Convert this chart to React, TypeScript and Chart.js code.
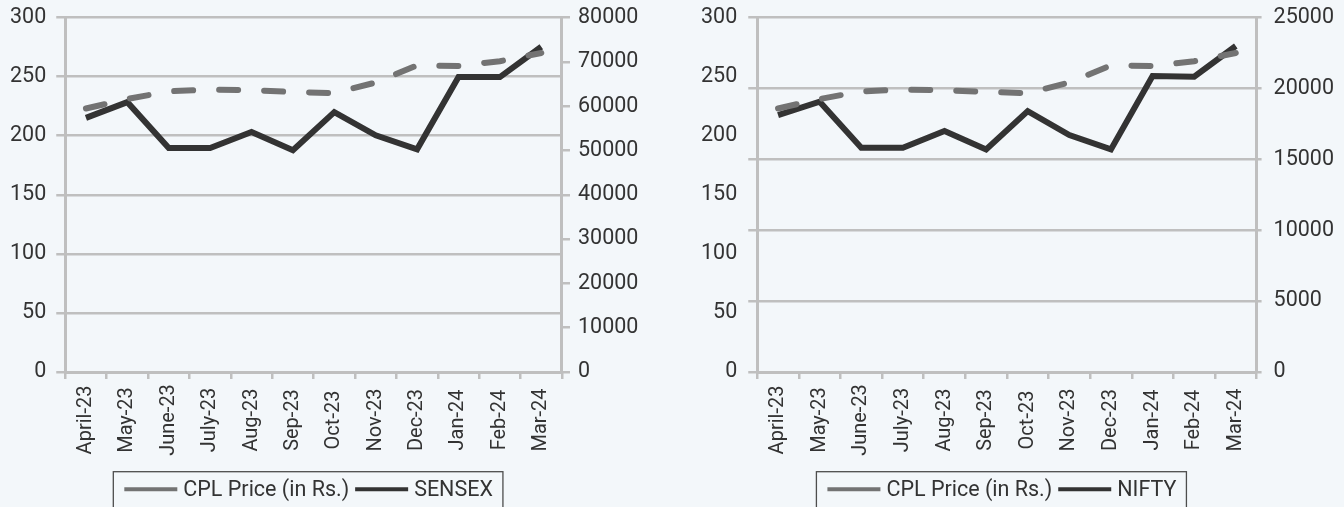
import React, { useEffect, useRef } from 'react';
import { Chart, registerables } from 'chart.js';

Chart.register(...registerables);

const FONT = 'Roboto, "Noto Sans", sans-serif';
const TEXT = '#333333';
const GRID = '#BFBFBF';
const BG = '#F3F7FA';

// ---- data ----
const months = ['April-23', 'May-23', 'June-23', 'July-23', 'Aug-23', 'Sep-23', 'Oct-23', 'Nov-23', 'Dec-23', 'Jan-24', 'Feb-24', 'Mar-24'];
const cplPrice = [223, 231, 237.5, 239, 238.5, 237, 236, 245, 259.5, 259, 263, 270];
const sensex = [57350, 60900, 50550, 50550, 54150, 50030, 58660, 53400, 50250, 66550, 66550, 73400];
const nifty = [18120, 19060, 15820, 15820, 17000, 15700, 18400, 16710, 15700, 20870, 20820, 22990];

// ---- axis tick values ----
const priceTicks = [0, 50, 100, 150, 200, 250, 300];
const sensexTicks = [0, 10000, 20000, 30000, 40000, 50000, 60000, 70000, 80000];
const niftyTicks = [0, 5000, 10000, 15000, 20000, 25000];

const stepOf = (t: number[]) => t[1] - t[0];

const centeredXLabels = {
  id: 'centeredXLabels',
  afterDraw(chart: any, _args: any, opts: any) {
    const scale = chart.scales.x;
    const ctx = chart.ctx;
    const labels = chart.data.labels as string[];
    ctx.save();
    ctx.font = `${opts.size}px ${FONT}`;
    ctx.fillStyle = opts.color;
    ctx.textAlign = 'center';
    ctx.textBaseline = 'middle';
    labels.forEach((lab, i) => {
      const x = scale.getPixelForTick(i);
      ctx.save();
      ctx.translate(x, chart.chartArea.bottom + opts.offset);
      ctx.rotate(-Math.PI / 2);
      ctx.fillText(lab, 0, 0);
      ctx.restore();
    });
    ctx.restore();
  },
};

const boxedLegend = {
  id: 'boxedLegend',
  afterDraw(chart: any, _args: any, o: any) {
    const ctx = chart.ctx;
    const ca = chart.chartArea;
    ctx.save();
    ctx.font = `${o.size}px ${FONT}`;
    const items = chart.data.datasets.map((d: any) => ({
      text: d.label as string,
      color: d.borderColor as string,
      w: ctx.measureText(d.label).width,
    }));
    let total = o.padLeft + o.padRight;
    items.forEach((it: any, i: number) => {
      total += o.lineLen + o.gap + it.w + (i < items.length - 1 ? o.itemGap : 0);
    });
    const left = (ca.left + ca.right) / 2 + o.shift - total / 2;
    const top = ca.bottom + o.top;
    ctx.strokeStyle = o.borderColor;
    ctx.lineWidth = 1.3;
    ctx.strokeRect(left, top, total, o.height);
    let x = left + o.padLeft;
    items.forEach((it: any) => {
      ctx.strokeStyle = it.color;
      ctx.lineWidth = 4;
      ctx.setLineDash([]);
      ctx.beginPath();
      ctx.moveTo(x, top + o.lineY);
      ctx.lineTo(x + o.lineLen, top + o.lineY);
      ctx.stroke();
      x += o.lineLen + o.gap;
      ctx.fillStyle = TEXT;
      ctx.textAlign = 'left';
      ctx.textBaseline = 'alphabetic';
      ctx.fillText(it.text, x, top + o.baseY);
      x += it.w + o.itemGap;
    });
    ctx.restore();
  },
};

// small lineHeight keeps the top label from pushing the plot area down
const tickFont = { size: 21.5, family: FONT, lineHeight: 0.4 };

function xScale() {
  return {
    type: 'category',
    offset: true,
    grid: { offset: true, drawOnChartArea: false, tickLength: 7, color: GRID, lineWidth: 2.5 },
    border: { display: true, color: GRID, width: 3 },
    ticks: { display: false },
  };
}

function makeConfig(indexLabel: string, indexData: number[], indexTicks: number[], right: boolean) {
  const datasets = [
    {
      label: 'CPL Price (in Rs.)',
      data: cplPrice,
      yAxisID: 'yL',
      borderColor: '#737373',
      backgroundColor: '#737373',
      borderWidth: 6,
      borderDash: [19, 26],
      borderCapStyle: 'round',
      pointRadius: 0,
      tension: 0,
    },
    {
      label: indexLabel,
      data: indexData,
      yAxisID: 'yR',
      borderColor: '#333333',
      backgroundColor: '#333333',
      borderWidth: 6,
      borderJoinStyle: 'miter',
      pointRadius: 0,
      tension: 0,
    },
  ];

  const scales: any = { x: xScale() };
  const numCb = (v: any) => String(v);
  if (!right) {
    scales.yL = {
      position: 'left',
      min: priceTicks[0],
      max: priceTicks[priceTicks.length - 1],
      ticks: { stepSize: stepOf(priceTicks), padding: 10, color: TEXT, font: tickFont, callback: numCb },
      grid: { color: GRID, lineWidth: 2.5, tickLength: 9 },
      border: { color: GRID, width: 3 },
    };
    scales.yR = {
      position: 'right',
      min: indexTicks[0],
      max: indexTicks[indexTicks.length - 1],
      ticks: { stepSize: stepOf(indexTicks), padding: 8, color: TEXT, font: tickFont, callback: numCb },
      grid: { drawOnChartArea: false, color: GRID, lineWidth: 2.5, tickLength: 8 },
      border: { color: GRID, width: 3 },
    };
  } else {
    scales.yL = {
      position: 'left',
      weight: 1,
      min: priceTicks[0],
      max: priceTicks[priceTicks.length - 1],
      ticks: { stepSize: stepOf(priceTicks), padding: 11, color: TEXT, font: tickFont, callback: numCb },
      grid: { display: false, drawTicks: false },
      border: { display: false },
    };
    scales.yT = {
      position: 'left',
      weight: 0,
      min: indexTicks[0],
      max: indexTicks[indexTicks.length - 1],
      ticks: { display: false, stepSize: stepOf(indexTicks) },
      grid: { drawOnChartArea: false, color: GRID, lineWidth: 2.5, tickLength: 9 },
      border: { color: GRID, width: 3 },
    };
    scales.yR = {
      position: 'right',
      min: indexTicks[0],
      max: indexTicks[indexTicks.length - 1],
      ticks: { stepSize: stepOf(indexTicks), padding: 12, color: TEXT, font: tickFont, callback: numCb },
      grid: { color: GRID, lineWidth: 2.5, tickLength: 5 },
      border: { color: GRID, width: 3 },
    };
  }

  return {
    type: 'line',
    data: { labels: months, datasets },
    plugins: [centeredXLabels, boxedLegend],
    options: {
      responsive: false,
      animation: false,
      events: [],
      layout: {
        padding: right
          ? { left: 0, right: 0, top: 17.5, bottom: 128 }
          : { left: 0, right: 25.6, top: 17.5, bottom: 128 },
      },
      scales,
      plugins: {
        legend: { display: false },
        tooltip: { enabled: false },
        centeredXLabels: { size: 20, color: TEXT, offset: 48 },
        boxedLegend: {
          size: 21.5,
          top: 99.7,
          height: 38,
          shift: -5.5,
          padLeft: 11,
          padRight: 10,
          lineLen: 53,
          gap: 6,
          itemGap: 6,
          lineY: 17.6,
          baseY: 24.3,
          borderColor: '#4D4D4D',
        },
      },
    },
  };
}

function ChartCanvas({ cfg, left, width }: { cfg: () => any; left: number; width: number }) {
  const ref = useRef<HTMLCanvasElement | null>(null);
  useEffect(() => {
    if (!ref.current) return;
    const chart = new Chart(ref.current, cfg());
    return () => chart.destroy();
  }, []);
  return (
    <canvas
      ref={ref}
      width={width}
      height={507}
      style={{ position: 'absolute', left, top: 0, width, height: 507 }}
    />
  );
}

export default function App() {
  return (
    <div
      style={{
        position: 'absolute',
        left: 0,
        top: 0,
        width: 1344,
        height: 507,
        background: BG,
        overflow: 'hidden',
      }}
    >
      <ChartCanvas cfg={() => makeConfig('SENSEX', sensex, sensexTicks, false)} left={0} width={672} />
      <ChartCanvas cfg={() => makeConfig('NIFTY', nifty, niftyTicks, true)} left={690} width={656} />
    </div>
  );
}
